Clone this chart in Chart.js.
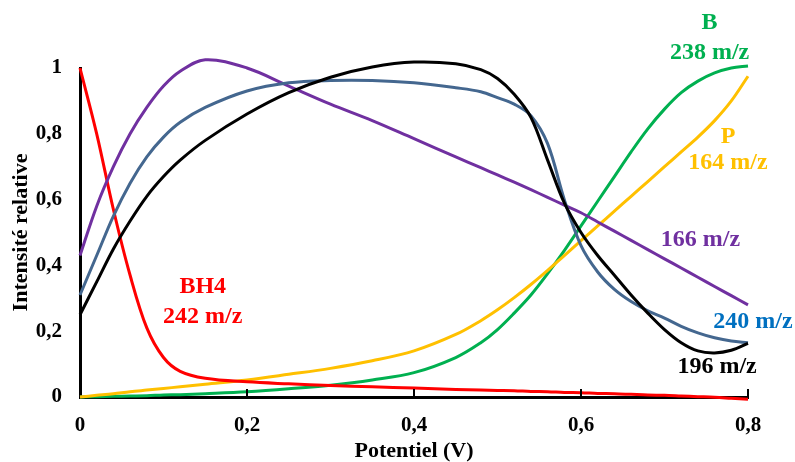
<!DOCTYPE html>
<html>
<head>
<meta charset="utf-8">
<script src="https://cdn.jsdelivr.net/npm/chart.js@4.4.1/dist/chart.umd.min.js"></script>
<style>
  html, body { margin: 0; padding: 0; background: #fff; }
  #wrap { width: 795px; height: 462px; }
</style>
</head>
<body>
<div id="wrap"><canvas id="chart" width="795" height="462"></canvas></div>
<script>
// potential (V) sampled along the x axis
const potentials = [0, 0.02, 0.04, 0.06, 0.08, 0.1, 0.12, 0.15, 0.2, 0.25, 0.3, 0.35, 0.4, 0.45, 0.48, 0.5,
  0.52, 0.54, 0.56, 0.58, 0.6, 0.62, 0.64, 0.66, 0.68, 0.7, 0.72, 0.74, 0.76, 0.78, 0.8];

// relative intensity for each m/z
const bh4_242 = [1.0, 0.80, 0.57, 0.37, 0.21, 0.12, 0.078, 0.057, 0.046, 0.04, 0.035, 0.031, 0.027, 0.023, 0.021, 0.02,
  0.019, 0.017, 0.016, 0.014, 0.013, 0.011, 0.01, 0.008, 0.006, 0.005, 0.003, 0.001, -0.001, -0.004, -0.007];
const mz166 = [0.43, 0.58, 0.70, 0.80, 0.88, 0.945, 0.99, 1.025, 1.0, 0.945, 0.89, 0.84, 0.785, 0.73, 0.697, 0.675,
  0.653, 0.63, 0.607, 0.583, 0.56, 0.532, 0.504, 0.476, 0.448, 0.42, 0.392, 0.364, 0.336, 0.308, 0.28];
const mz240 = [0.31, 0.43, 0.55, 0.65, 0.73, 0.79, 0.835, 0.88, 0.93, 0.955, 0.962, 0.962, 0.955, 0.94, 0.928, 0.91,
  0.89, 0.855, 0.77, 0.60, 0.46, 0.38, 0.327, 0.29, 0.262, 0.24, 0.215, 0.195, 0.18, 0.17, 0.165];
const mz196 = [0.25, 0.35, 0.45, 0.535, 0.61, 0.67, 0.72, 0.78, 0.86, 0.925, 0.972, 1.003, 1.018, 1.013, 0.995, 0.968,
  0.92, 0.85, 0.72, 0.59, 0.50, 0.43, 0.37, 0.31, 0.255, 0.205, 0.165, 0.14, 0.134, 0.142, 0.163];
const b_238 = [0, 0.001, 0.002, 0.003, 0.004, 0.006, 0.007, 0.01, 0.016, 0.025, 0.036, 0.052, 0.074, 0.12, 0.165, 0.205,
  0.255, 0.31, 0.375, 0.445, 0.52, 0.595, 0.67, 0.745, 0.815, 0.875, 0.925, 0.96, 0.985, 1.0, 1.006];
const p_164 = [0, 0.005, 0.01, 0.016, 0.021, 0.026, 0.031, 0.039, 0.052, 0.069, 0.087, 0.11, 0.14, 0.19, 0.232, 0.265,
  0.302, 0.342, 0.385, 0.43, 0.475, 0.52, 0.565, 0.61, 0.655, 0.70, 0.745, 0.79, 0.84, 0.90, 0.975];

const xTicks = [0, 0.2, 0.4, 0.6, 0.8];
const yTicks = [0, 0.2, 0.4, 0.6, 0.8, 1];

// text labels placed in data coordinates
const curveLabels = [
  { text: 'BH4', x: 0.147, y: 0.334, color: '#FF0000' },
  { text: '242 m/z', x: 0.147, y: 0.243, color: '#FF0000' },
  { text: 'B', x: 0.754, y: 1.137, color: '#00B050' },
  { text: '238 m/z', x: 0.754, y: 1.046, color: '#00B050' },
  { text: 'P', x: 0.776, y: 0.79, color: '#FFC000' },
  { text: '164 m/z', x: 0.776, y: 0.711, color: '#FFC000' },
  { text: '166 m/z', x: 0.743, y: 0.477, color: '#7030A0' },
  { text: '240 m/z', x: 0.806, y: 0.228, color: '#0070C0' },
  { text: '196 m/z', x: 0.763, y: 0.091, color: '#000000' }
];

const serif = '"Liberation Serif", "Times New Roman", serif';
const toPoints = ys => ys.map((v, i) => ({ x: potentials[i], y: v }));
const comma = v => String(Math.round(v * 10) / 10).replace('.', ',');

const line = (data, color) => ({
  data: toPoints(data),
  borderColor: color,
  borderWidth: 3,
  pointRadius: 0,
  tension: 0.35,
  clip: false,
  fill: false
});

const labelPlugin = {
  id: 'curveLabels',
  afterDatasetsDraw(chart) {
    const { ctx, scales: { x, y } } = chart;
    ctx.save();
    // small inner ticks on the x axis
    ctx.strokeStyle = '#000';
    ctx.lineWidth = 2;
    xTicks.slice(1).forEach(v => {
      const px = x.getPixelForValue(v);
      ctx.beginPath();
      ctx.moveTo(px, y.bottom);
      ctx.lineTo(px, y.bottom - 8);
      ctx.stroke();
    });
    ctx.font = '700 24px ' + serif;
    ctx.textAlign = 'center';
    ctx.textBaseline = 'middle';
    curveLabels.forEach(l => {
      ctx.fillStyle = l.color;
      ctx.fillText(l.text, x.getPixelForValue(l.x), y.getPixelForValue(l.y));
    });
    ctx.restore();
  }
};

new Chart(document.getElementById('chart'), {
  type: 'line',
  data: {
    datasets: [
      line(mz196, '#000000'),
      line(mz240, '#44678F'),
      line(mz166, '#7030A0'),
      line(bh4_242, '#FF0000'),
      line(p_164, '#FFC000'),
      line(b_238, '#00B050')
    ]
  },
  options: {
    responsive: false,
    animation: false,
    devicePixelRatio: 1,
    layout: { padding: { top: 68, right: 47, left: 0, bottom: 0 } },
    plugins: { legend: { display: false }, tooltip: { enabled: false } },
    scales: {
      x: {
        type: 'linear',
        min: 0,
        max: 0.8,
        afterFit: s => { s.height = 65; },
        afterBuildTicks: s => { s.ticks = xTicks.map(v => ({ value: v })); },
        ticks: { callback: comma, color: '#000', padding: 16, font: { family: serif, size: 21, weight: 'bold' }, maxRotation: 0 },
        grid: { display: true, drawOnChartArea: false, drawTicks: false },
        border: { color: '#000', width: 3 },
        title: { display: true, text: 'Potentiel (V)', color: '#000', padding: { top: 0, bottom: 0 },
          font: { family: serif, size: 22, weight: 'bold', lineHeight: 1 } }
      },
      y: {
        min: 0,
        max: 1,
        afterFit: s => { s.width = 80; },
        afterBuildTicks: s => { s.ticks = yTicks.map(v => ({ value: v })); },
        ticks: { callback: comma, color: '#000', padding: 18, font: { family: serif, size: 21, weight: 'bold' } },
        grid: { display: true, drawOnChartArea: false, drawTicks: false },
        border: { color: '#000', width: 3 },
        title: { display: true, text: 'Intensité relative', color: '#000', padding: { top: 10, bottom: 0 },
          font: { family: serif, size: 22, weight: 'bold', lineHeight: 1 } }
      }
    }
  },
  plugins: [labelPlugin]
});
</script>
</body>
</html>
